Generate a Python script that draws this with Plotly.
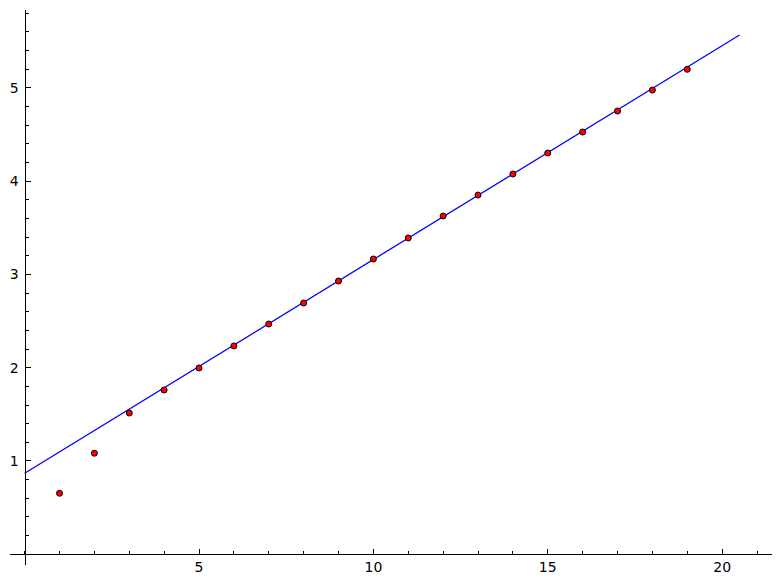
import plotly.graph_objects as go

# data points
xs = list(range(1, 20))
ys = [0.654, 1.083, 1.514, 1.761, 1.997, 2.233, 2.468, 2.693, 2.929, 3.165,
      3.390, 3.626, 3.851, 4.076, 4.301, 4.526, 4.751, 4.976, 5.198]

# fitted line endpoints
line_x = [0.0, 20.5]
line_y = [0.868, 5.566]

x_ticks = [5, 10, 15, 20]
y_ticks = [1, 2, 3, 4, 5]

xmin, xmax = -0.42, 21.43
ymin, ymax = -0.115, 5.834

fig = go.Figure()
fig.add_trace(go.Scatter(x=line_x, y=line_y, mode="lines",
                         line=dict(color="#0000ff", width=1.3),
                         hoverinfo="skip"))
fig.add_trace(go.Scatter(x=xs, y=ys, mode="markers",
                         marker=dict(color="#ff0000", size=6,
                                     line=dict(color="black", width=1))))

font = dict(family="DejaVu Sans", size=14, color="black")

# page body has an 8px default margin; compensate
fig.update_layout(
    width=781, height=584,
    margin=dict(l=2, r=17, t=2, b=27, autoexpand=False),
    plot_bgcolor="white", paper_bgcolor="white",
    showlegend=False,
    font=font,
    xaxis=dict(range=[xmin, xmax], showgrid=False, zeroline=False,
               automargin=False,
               showline=True, linecolor="black", linewidth=1.2,
               anchor="free", position=(0 - ymin) / (ymax - ymin),
               tickvals=x_ticks, ticktext=[str(v) for v in x_ticks],
               ticks="inside", ticklen=5, tickwidth=1, tickcolor="black",
               minor=dict(dtick=1, tick0=0, ticks="inside", ticklen=3,
                          tickwidth=1, tickcolor="black"),
               tickfont=font),
    yaxis=dict(range=[ymin, ymax], showgrid=False, zeroline=False,
               automargin=False,
               showline=True, linecolor="black", linewidth=1.2,
               anchor="free", position=(0 - xmin) / (xmax - xmin),
               tickvals=y_ticks, ticktext=[str(v) for v in y_ticks],
               ticks="inside", ticklen=5, tickwidth=1, tickcolor="black",
               ticklabelstandoff=3,
               minor=dict(dtick=0.2, tick0=0, ticks="inside", ticklen=3,
                          tickwidth=1, tickcolor="black"),
               tickfont=font),
)

fig.write_html("out.html")
